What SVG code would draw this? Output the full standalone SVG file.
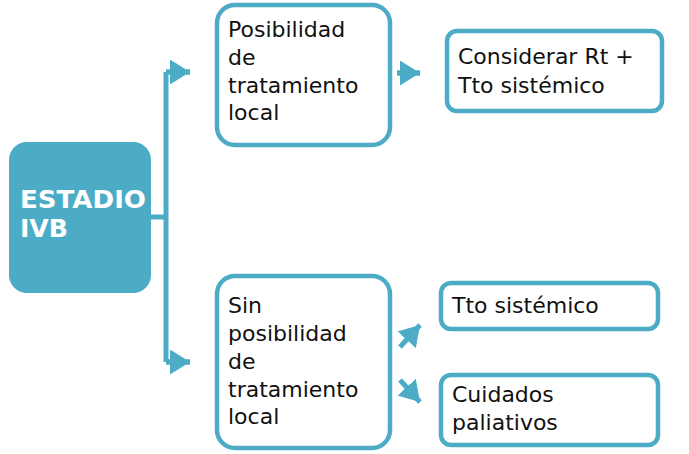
<svg xmlns="http://www.w3.org/2000/svg" width="689" height="454" viewBox="0 0 689 454">
<style>
.b{fill:#fff;stroke:#4cacc6;stroke-width:4.5}
.t{font-family:"DejaVu Sans",sans-serif;font-size:22px;fill:#111}
.c{stroke:#4cacc6;stroke-width:5;fill:none}
</style>
<defs><marker id="a" markerWidth="4" markerHeight="5" refX="4" refY="2.5" orient="auto" markerUnits="strokeWidth"><path d="M0,0L4,2.5L0,5Z" fill="#4cacc6"/></marker></defs>
<g id="estadio"><rect x="9" y="142" width="142" height="151" rx="18" fill="#4cacc6"/>
<text font-family="'DejaVu Sans',sans-serif" font-weight="bold" font-size="24" fill="#fff"><tspan x="20" y="208" textLength="126" lengthAdjust="spacingAndGlyphs">ESTADIO</tspan><tspan x="20" y="237" textLength="48" lengthAdjust="spacingAndGlyphs">IVB</tspan></text></g>
<g id="con">
<path class="c" d="M150,217H166M166,72V362M166,72H190M166,362H190M397,73H420"/>
<path class="c" d="M166,72H190" marker-end="url(#a)"/>
<path class="c" d="M166,362H190" marker-end="url(#a)"/>
<path class="c" d="M397,73H420" marker-end="url(#a)"/>
<path class="c" d="M400,347L420,325" marker-end="url(#a)"/>
<path class="c" d="M400,380L420,402" marker-end="url(#a)"/>
</g>
<g id="n1"><rect class="b" x="217" y="5" width="173" height="140" rx="18"/>
<text class="t"><tspan x="228" y="37">Posibilidad</tspan><tspan x="228" y="65">de</tspan><tspan x="228" y="93">tratamiento</tspan><tspan x="228" y="120">local</tspan></text></g>
<g id="n2"><rect class="b" x="217" y="276" width="173" height="172" rx="18"/>
<text class="t"><tspan x="228" y="313">Sin</tspan><tspan x="228" y="341">posibilidad</tspan><tspan x="228" y="369">de</tspan><tspan x="228" y="397">tratamiento</tspan><tspan x="228" y="424">local</tspan></text></g>
<g id="n3"><rect class="b" x="447" y="31" width="215" height="80" rx="10"/>
<text class="t"><tspan x="458" y="64">Considerar Rt +</tspan><tspan x="458" y="93">Tto sistémico</tspan></text></g>
<g id="n4"><rect class="b" x="441" y="283" width="217" height="46" rx="10"/>
<text class="t" x="452" y="313">Tto sistémico</text></g>
<g id="n5"><rect class="b" x="441" y="375" width="217" height="70" rx="10"/>
<text class="t"><tspan x="452" y="402">Cuidados</tspan><tspan x="452" y="430">paliativos</tspan></text></g>
</svg>
